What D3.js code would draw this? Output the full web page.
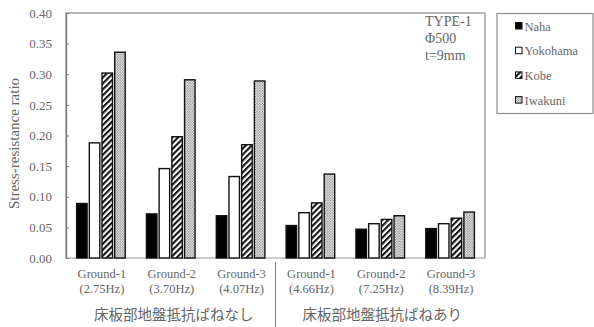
<!DOCTYPE html>
<html>
<head>
<meta charset="utf-8">
<script src="https://cdn.jsdelivr.net/npm/d3@7"></script>
<style>
  html, body { margin: 0; padding: 0; background: #fff; }
  svg { display: block; }
</style>
</head>
<body>
<div id="chart"></div>
<script>
// Stress-resistance ratio per ground condition and site record
const groups = ["G1a", "G2a", "G3a", "G1b", "G2b", "G3b"];
const groundNames = ["Ground-1", "Ground-2", "Ground-3", "Ground-1", "Ground-2", "Ground-3"];
const frequencies = ["(2.75Hz)", "(3.70Hz)", "(4.07Hz)", "(4.66Hz)", "(7.25Hz)", "(8.39Hz)"];
const series = ["Naha", "Yokohama", "Kobe", "Iwakuni"];
const naha     = [0.089, 0.072, 0.069, 0.053, 0.047, 0.048];
const yokohama = [0.188, 0.146, 0.133, 0.074, 0.056, 0.056];
const kobe     = [0.302, 0.198, 0.185, 0.090, 0.063, 0.065];
const iwakuni  = [0.336, 0.291, 0.289, 0.137, 0.069, 0.075];
const yTicks = [0, 0.05, 0.10, 0.15, 0.20, 0.25, 0.30, 0.35, 0.40];
const sectionLabels = ["床板部地盤抵抗ばねなし", "床板部地盤抵抗ばねあり"];
const noteLines = ["TYPE-1", "Φ500", "t=9mm"];

const values = [naha, yokohama, kobe, iwakuni];

const W = 594, H = 327;
const plot = { left: 66, right: 485, top: 13, bottom: 258 };
const textColor = "#666";
const lineColor = "#8c8c8c";
const serif = "'Liberation Serif', 'Times New Roman', serif";
const cjk = "'Noto Sans CJK JP', sans-serif";

const svg = d3.select("#chart").append("svg")
  .attr("width", W).attr("height", H);

// fill patterns for the hatched and dotted series
const defs = svg.append("defs");
const hatch = defs.append("pattern")
  .attr("id", "hatch").attr("patternUnits", "userSpaceOnUse")
  .attr("width", 4.2).attr("height", 4.2)
  .attr("patternTransform", "rotate(45)");
hatch.append("rect").attr("width", 4.2).attr("height", 4.2).attr("fill", "#fff");
hatch.append("rect").attr("x", 0).attr("width", 2.1).attr("height", 4.2).attr("fill", "#111");

const dots = defs.append("pattern")
  .attr("id", "dots").attr("patternUnits", "userSpaceOnUse")
  .attr("width", 2.6).attr("height", 2.6);
dots.append("rect").attr("width", 2.6).attr("height", 2.6).attr("fill", "#f2f2f2");
dots.append("circle").attr("cx", 0.65).attr("cy", 0.65).attr("r", 0.65).attr("fill", "#6a6a6a");
dots.append("circle").attr("cx", 1.95).attr("cy", 1.95).attr("r", 0.65).attr("fill", "#6a6a6a");

const fills = {
  Naha: "#000",
  Yokohama: "#fff",
  Kobe: "url(#hatch)",
  Iwakuni: "url(#dots)"
};

const x0 = d3.scaleBand().domain(groups).range([plot.left, plot.right]).padding(0);
const x1 = d3.scaleBand().domain(series).range([0, x0.bandwidth()])
  .paddingInner(0.173).paddingOuter(0.836);
const y = d3.scaleLinear().domain([0, 0.40]).range([plot.bottom, plot.top]);

// plot frame
svg.append("rect")
  .attr("x", plot.left).attr("y", plot.top)
  .attr("width", plot.right - plot.left).attr("height", plot.bottom - plot.top)
  .attr("fill", "none").attr("stroke", lineColor).attr("stroke-width", 1.2);

// baseline
svg.append("line")
  .attr("x1", plot.left).attr("x2", plot.right)
  .attr("y1", y(0)).attr("y2", y(0))
  .attr("stroke", "#d0d0d0").attr("stroke-width", 1.5);

// y axis
const yAxis = d3.axisLeft(y).tickValues(yTicks)
  .tickFormat(d3.format(".2f")).tickSizeInner(-3).tickSizeOuter(0).tickPadding(14);
const ya = svg.append("g").attr("transform", `translate(${plot.left},0)`).call(yAxis);
ya.select(".domain").attr("stroke", "#777").attr("stroke-width", 1.3);
ya.selectAll(".tick line").attr("stroke", "#777");
ya.selectAll(".tick text")
  .attr("fill", textColor).attr("font-family", serif).attr("font-size", 13);

svg.append("text")
  .attr("transform", `translate(19,${(plot.top + plot.bottom) / 2 + 8}) rotate(-90)`)
  .attr("text-anchor", "middle")
  .attr("fill", textColor).attr("font-family", serif).attr("font-size", 15)
  .text("Stress-resistance ratio");

// bars
const gGroups = svg.append("g").selectAll("g")
  .data(groups).join("g")
  .attr("transform", d => `translate(${x0(d)},0)`);

gGroups.selectAll("rect")
  .data((g, gi) => series.map((s, si) => ({ s, v: values[si][gi] })))
  .join("rect")
  .attr("x", d => x1(d.s))
  .attr("width", x1.bandwidth())
  .attr("y", d => y(d.v))
  .attr("height", d => y(0) - y(d.v))
  .attr("fill", d => fills[d.s])
  .attr("stroke", "#111").attr("stroke-width", 1.4);

// category labels
const cx = (g) => x0(g) + x0.bandwidth() / 2;
svg.append("g").selectAll("text")
  .data(groups).join("text")
  .attr("x", (d, i) => cx(d) + 1)
  .attr("y", 278)
  .attr("text-anchor", "middle")
  .attr("fill", textColor).attr("font-family", serif).attr("font-size", 12.5)
  .text((d, i) => groundNames[i]);

svg.append("g").selectAll("text")
  .data(groups).join("text")
  .attr("x", (d, i) => cx(d) + 1)
  .attr("y", 293)
  .attr("text-anchor", "middle")
  .attr("fill", textColor).attr("font-family", serif).attr("font-size", 12.5)
  .text((d, i) => frequencies[i]);

// section labels and divider
const mid = x0(groups[3]);
svg.append("line")
  .attr("x1", mid).attr("x2", mid).attr("y1", 262).attr("y2", 327)
  .attr("stroke", lineColor).attr("stroke-width", 1.2);

svg.append("g").selectAll("text")
  .data(sectionLabels).join("text")
  .attr("x", (d, i) => i === 0 ? (plot.left + mid) / 2 + 3 : (mid + plot.right) / 2 + 2)
  .attr("y", 320)
  .attr("text-anchor", "middle")
  .attr("fill", textColor).attr("font-family", cjk).attr("font-size", 14.5)
  .text(d => d);

// specimen note
svg.append("g").selectAll("text")
  .data(noteLines).join("text")
  .attr("x", 425)
  .attr("y", (d, i) => 26 + i * 16.8)
  .attr("fill", textColor).attr("font-family", serif).attr("font-size", 14)
  .text(d => d);

// legend
const legend = svg.append("g");
legend.append("rect")
  .attr("x", 497).attr("y", 13.5).attr("width", 96).attr("height", 100)
  .attr("fill", "#fff").attr("stroke", lineColor).attr("stroke-width", 1.2);

const items = legend.selectAll("g.item")
  .data(series).join("g").attr("class", "item")
  .attr("transform", (d, i) => `translate(515.5,${26 + i * 24.7})`);
items.append("rect")
  .attr("x", 0).attr("y", -3.5).attr("width", 6.5).attr("height", 6.5)
  .attr("fill", d => fills[d]).attr("stroke", "#111").attr("stroke-width", 1);
items.append("text")
  .attr("x", 9).attr("y", 4.5)
  .attr("fill", textColor).attr("font-family", serif).attr("font-size", 12.5)
  .text(d => d);
</script>
</body>
</html>
